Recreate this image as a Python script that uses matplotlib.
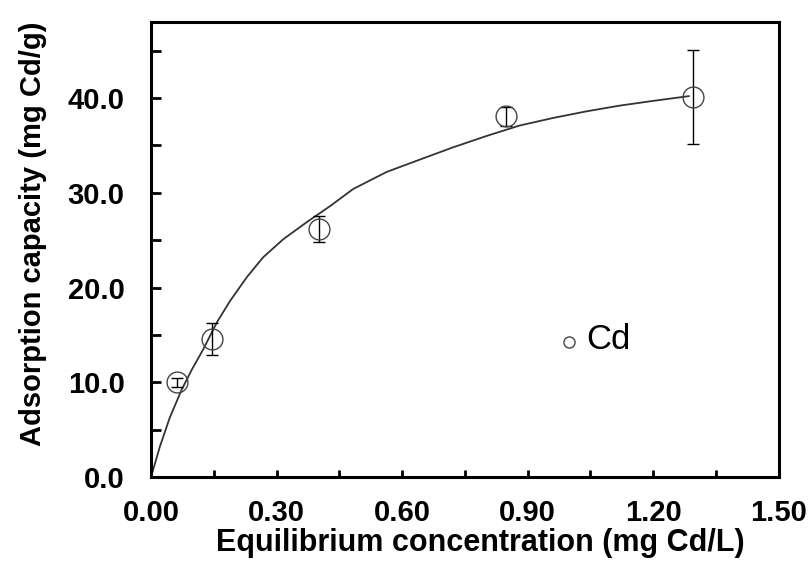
import matplotlib
matplotlib.use('Agg')
import matplotlib.pyplot as plt
from matplotlib.ticker import MultipleLocator, FormatStrFormatter

# measured points (Cd)
conc = [0.061, 0.145, 0.402, 0.848, 1.294]
capacity = [10.0, 14.6, 26.2, 38.1, 40.1]
cap_err = [0.5, 1.7, 1.35, 1.0, 5.0]

# fitted curve
curve_x = [0.0, 0.021, 0.045, 0.073, 0.097, 0.125, 0.157, 0.189, 0.229, 0.268, 0.316,
           0.372, 0.428, 0.483, 0.563, 0.642, 0.722, 0.802, 0.881, 0.961, 1.041,
           1.120, 1.200, 1.285]
curve_y = [0.0, 3.2, 6.3, 9.2, 11.3, 13.5, 16.3, 18.6, 21.1, 23.2, 25.1,
           26.9, 28.6, 30.4, 32.2, 33.5, 34.8, 36.0, 37.1, 37.9, 38.6,
           39.2, 39.7, 40.2]

x_ticks = [0.0, 0.3, 0.6, 0.9, 1.2, 1.5]
y_ticks = [0.0, 10.0, 20.0, 30.0, 40.0]


def PlotGraph(fpath):
    plt.rcParams['font.family'] = ['Liberation Sans', 'DejaVu Sans']
    fig = plt.figure(figsize=(8.12, 5.70), dpi=100)
    ax = fig.add_axes([0.186, 0.163, 0.773, 0.798])

    ax.plot(curve_x, curve_y, color="#333333", linewidth=1.3, zorder=2)
    ax.errorbar(conc, capacity, yerr=cap_err, fmt="o", markersize=15,
                markerfacecolor="none", markeredgecolor="#444444", markeredgewidth=1.0,
                ecolor="black", elinewidth=1.0, capsize=4.5, capthick=1.0, zorder=3)

    # legend drawn by hand like the original
    ax.plot([1.0], [14.3], "o", markersize=8, markerfacecolor="none",
            markeredgecolor="#444444", markeredgewidth=1.0)
    ax.text(1.04, 14.5, "Cd", fontsize=25, va="center", ha="left")

    ax.set_xlim(0, 1.5)
    ax.set_ylim(0, 48)
    ax.set_xticks(x_ticks)
    ax.set_yticks(y_ticks)
    ax.xaxis.set_minor_locator(MultipleLocator(0.15))
    ax.yaxis.set_minor_locator(MultipleLocator(5))
    ax.xaxis.set_major_formatter(FormatStrFormatter("%.2f"))
    ax.yaxis.set_major_formatter(FormatStrFormatter("%.1f"))

    for side in ["left", "bottom", "right", "top"]:
        ax.spines[side].set_linewidth(2.2)
    ax.tick_params(axis="y", which="both", direction="in", length=7, width=2, pad=19, labelsize=21)
    ax.tick_params(axis="x", which="both", direction="in", length=5, width=2, pad=16, labelsize=21)
    for lbl in ax.get_xticklabels() + ax.get_yticklabels():
        lbl.set_fontweight("bold")

    ax.set_xlabel("Equilibrium concentration (mg Cd/L)", fontsize=22, fontweight="bold")
    ax.set_ylabel("Adsorption capacity (mg Cd/g)", fontsize=21, fontweight="bold")
    ax.xaxis.set_label_coords(0.524, -0.112)
    ax.yaxis.set_label_coords(-0.166, 0.534)

    fig.savefig(fpath, dpi=100)
    print("save : {}".format(fpath))
    return 0


if __name__ == "__main__":
    PlotGraph("out.png")
